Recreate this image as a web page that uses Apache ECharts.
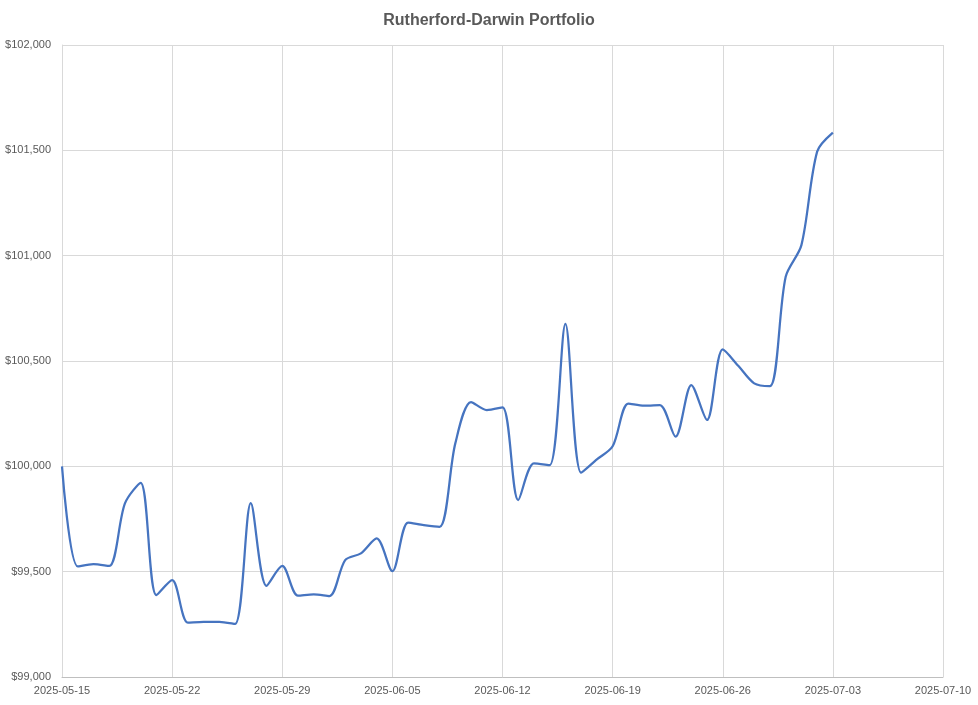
<!DOCTYPE html>
<html>
<head>
<meta charset="utf-8">
<script src="https://cdn.jsdelivr.net/npm/echarts@6/dist/echarts.min.js"></script>
<style>html,body{margin:0;padding:0;background:#fff}#c{width:978px;height:705px}</style>
</head>
<body>
<div id="c"></div>
<script>
const title = 'Rutherford-Darwin Portfolio';
const startDate = '2025-05-15';
const dates = [
 '2025-05-15','2025-05-16','2025-05-17','2025-05-18','2025-05-19','2025-05-20','2025-05-21',
 '2025-05-22','2025-05-23','2025-05-24','2025-05-25','2025-05-26','2025-05-27','2025-05-28',
 '2025-05-29','2025-05-30','2025-05-31','2025-06-01','2025-06-02','2025-06-03','2025-06-04',
 '2025-06-05','2025-06-06','2025-06-07','2025-06-08','2025-06-09','2025-06-10','2025-06-11',
 '2025-06-12','2025-06-13','2025-06-14','2025-06-15','2025-06-16','2025-06-17','2025-06-18',
 '2025-06-19','2025-06-20','2025-06-21','2025-06-22','2025-06-23','2025-06-24','2025-06-25',
 '2025-06-26','2025-06-27','2025-06-28','2025-06-29','2025-06-30','2025-07-01','2025-07-02',
 '2025-07-03'
];
const values = [
 100000, 99525, 99536, 99527, 99824, 99922, 99389,
 99460, 99258, 99262, 99262, 99252, 99825, 99433,
 99527, 99386, 99392, 99384, 99555, 99587, 99658,
 99502, 99733, 99721, 99713, 100109, 100305, 100267,
 100280, 99840, 100014, 100006, 100676, 99970, 100033,
 100095, 100298, 100288, 100291, 100141, 100386, 100220,
 100555, 100476, 100394, 100381, 100900, 101050, 101494,
 101584
];
const yTicks = [99000, 99500, 100000, 100500, 101000, 101500, 102000];
const xTickDays = 7;
const xMaxDays = 56;

const DAY = 86400000;
const t0 = Date.parse(startDate + 'T00:00:00Z');
const dayIndex = d => Math.round((Date.parse(d + 'T00:00:00Z') - t0) / DAY);
const fmtDate = n => new Date(t0 + n * DAY).toISOString().slice(0, 10);
const seriesData = dates.map((d, i) => [dayIndex(d), values[i]]);

const font = '"Liberation Sans", Arial, sans-serif';
const chart = echarts.init(document.getElementById('c'), null, {renderer: 'canvas'});
chart.setOption({
  animation: false,
  backgroundColor: '#ffffff',
  title: {
    text: title, left: 'center', top: 8,
    textStyle: {fontFamily: font, fontSize: 16, fontWeight: 'bold', color: '#595959'}
  },
  grid: {left: 62, right: 35, top: 45, bottom: 28, containLabel: false},
  xAxis: {
    type: 'value', min: 0, max: xMaxDays, interval: xTickDays,
    axisLine: {show: true, lineStyle: {color: '#bfbfbf', width: 1}},
    axisTick: {show: false},
    splitLine: {show: true, lineStyle: {color: '#d9d9d9', width: 1}},
    axisLabel: {
      formatter: v => fmtDate(v), color: '#595959', fontFamily: font, fontSize: 11, margin: 8,
      showMinLabel: true, showMaxLabel: true
    }
  },
  yAxis: {
    type: 'value', min: yTicks[0], max: yTicks[yTicks.length - 1], interval: yTicks[1] - yTicks[0],
    axisLine: {show: true, lineStyle: {color: '#d9d9d9', width: 1}},
    axisTick: {show: false},
    splitLine: {show: true, lineStyle: {color: '#d9d9d9', width: 1}},
    axisLabel: {
      formatter: v => '$' + v.toLocaleString('en-US'), color: '#595959',
      fontFamily: font, fontSize: 11, margin: 11
    }
  },
  series: [{
    type: 'line', data: seriesData, smooth: 0.3, showSymbol: false,
    lineStyle: {color: '#4674C0', width: 2.25}, itemStyle: {color: '#4674C0'}
  }]
});
</script>
</body>
</html>
